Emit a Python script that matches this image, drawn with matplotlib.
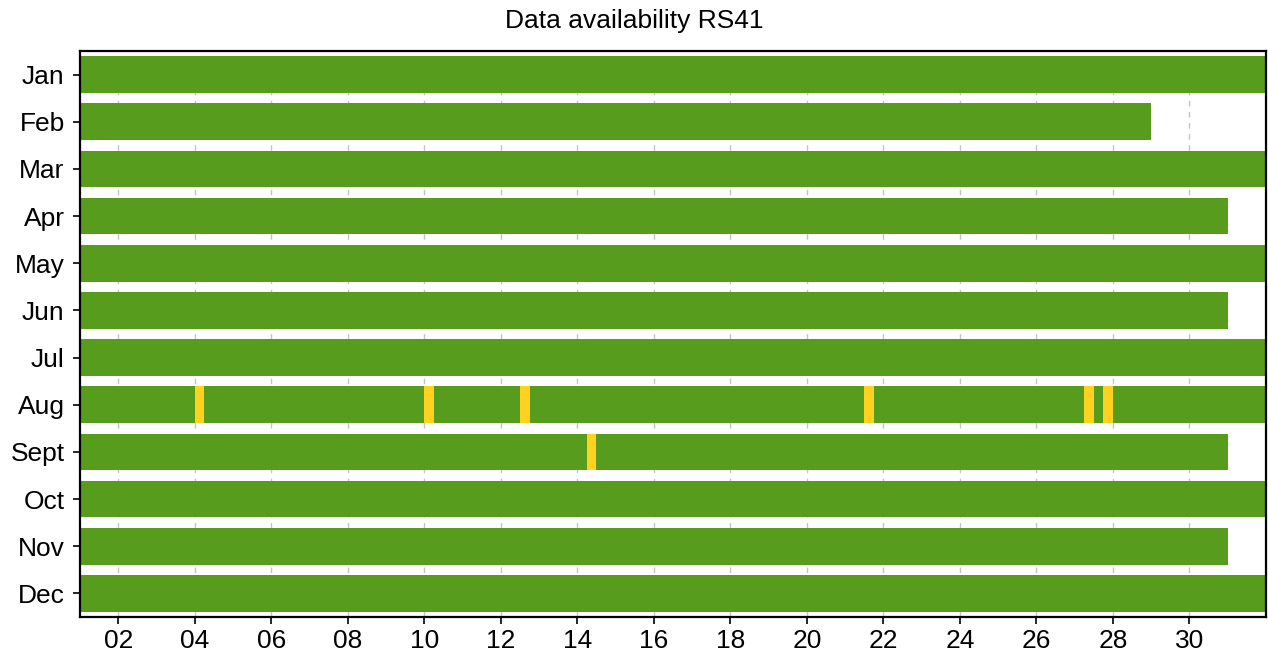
import numpy as np
import matplotlib
matplotlib.use("Agg")
import matplotlib.pyplot as plt

plt.rcParams['font.family'] = ['Liberation Sans', 'DejaVu Sans']

# Months and their lengths (non-leap year)
months = ["Jan", "Feb", "Mar", "Apr", "May", "Jun", "Jul", "Aug", "Sept", "Oct", "Nov", "Dec"]
days_in_month = [31, 28, 31, 30, 31, 30, 31, 31, 30, 31, 30, 31]

# Soundings every 6 hours; flagged launches as (day, hour UTC)
launch_hours = [0, 6, 12, 18]
flagged = {
    "Aug": [(4, 0), (10, 0), (12, 12), (21, 12), (27, 6), (27, 18)],
    "Sept": [(14, 6)],
}

xticks = list(range(2, 31, 2))
xtick_labels = [f"{d:02d}" for d in xticks]

GOOD = "#589c1e"
FLAG = "#ffd21f"

fig = plt.figure(figsize=(12.68, 6.59), dpi=100)
ax = fig.add_axes([80 / 1268, 1 - 617 / 659, (1266 - 80) / 1268, (617 - 51) / 659])

slot = 1.0 / len(launch_hours)
for row, (name, ndays) in enumerate(zip(months, days_in_month)):
    starts = []
    colors = []
    bad = set(flagged.get(name, []))
    for d in range(1, ndays + 1):
        for h in launch_hours:
            starts.append(d + h / 24.0)
            colors.append(FLAG if (d, h) in bad else GOOD)
    ax.barh([row] * len(starts), [slot] * len(starts), left=starts, height=0.78,
            color=colors, linewidth=0, zorder=2)

ax.set_xlim(1, 32)
ax.set_ylim(len(months) - 0.5, -0.5)
ax.set_yticks(range(len(months)))
ax.set_yticklabels(months)
ax.set_xticks(xticks)
ax.set_xticklabels(xtick_labels)

ax.grid(axis="x", color="#c4c4c4", linestyle=(0, (4, 4)), linewidth=1.0, zorder=0)
ax.set_axisbelow(True)

for sp in ax.spines.values():
    sp.set_linewidth(1.6)
    sp.set_color("black")

ax.tick_params(axis="y", length=5, width=1.2, pad=6, labelsize=19)
ax.tick_params(axis="x", length=5, width=1.2, pad=4, labelsize=19)

fig.text(0.5, 1 - 21 / 659, "Data availability RS41", ha="center", va="center", fontsize=19)

fig.savefig("out.png", dpi=100)
